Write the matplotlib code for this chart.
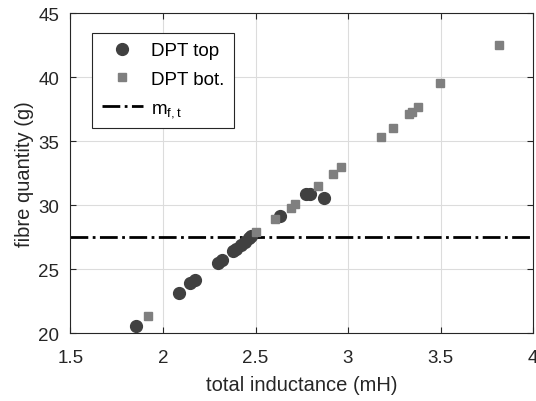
import numpy as np
import matplotlib.pyplot as plt

plt.rcParams['font.family'] = ['Liberation Sans', 'DejaVu Sans']

# DPT top (circles)
top_L = [1.855, 2.087, 2.144, 2.171, 2.297, 2.317, 2.377, 2.397, 2.423, 2.441, 2.464, 2.477,
         2.635, 2.774, 2.796, 2.871]
top_m = [20.6, 23.15, 23.9, 24.2, 25.5, 25.7, 26.4, 26.6, 26.9, 27.1, 27.45, 27.6,
         29.2, 30.9, 30.9, 30.57]

# DPT bot. (squares)
bot_L = [1.918, 2.505, 2.607, 2.692, 2.715, 2.837, 2.918, 2.963, 3.179, 3.242,
         3.329, 3.346, 3.379, 3.499, 3.814]
bot_m = [21.4, 27.9, 28.96, 29.8, 30.13, 31.5, 32.46, 32.98, 35.3, 36.07,
         37.15, 37.25, 37.7, 39.55, 42.5]

m_ft = 27.5

fig = plt.figure(figsize=(5.36, 4.02), dpi=100)
ax = fig.add_axes([0.1315, 0.168, 0.863, 0.797])

ax.plot(top_L, top_m, 'o', color='#404040', markersize=8.5, label='DPT top', zorder=3)
ax.plot(bot_L, bot_m, 's', color='#7f7f7f', markersize=6, label='DPT bot.', zorder=3)
ax.axhline(m_ft, color='black', linestyle='-.', linewidth=2, label='$\\mathregular{m_{f,t}}$', zorder=2)

ax.set_xlim(1.5, 4)
ax.set_ylim(20, 45)
ax.set_xticks([1.5, 2, 2.5, 3, 3.5, 4])
ax.set_xticklabels(['1.5', '2', '2.5', '3', '3.5', '4'])
ax.set_yticks([20, 25, 30, 35, 40, 45])
ax.grid(True, color='#dcdcdc', linewidth=0.8)
ax.set_axisbelow(True)
ax.tick_params(direction='in', labelsize=13.5, colors='#262626', top=True, right=True, length=4)
ax.tick_params(axis='x', pad=11)
ax.tick_params(axis='y', pad=8)
for s in ax.spines.values():
    s.set_color('#262626')
    s.set_linewidth(0.8)

ax.set_xlabel('total inductance (mH)', fontsize=14.5, color='#262626', labelpad=7)
ax.set_ylabel('fibre quantity (g)', fontsize=14.5, color='#262626', labelpad=3)

leg = ax.legend(loc='upper left', bbox_to_anchor=(0.047, 0.938), fontsize=13.5, fancybox=False,
                edgecolor='#262626', framealpha=1, handlelength=2.2, borderpad=0.5,
                labelspacing=0.6, borderaxespad=0, handletextpad=0.45)
leg.get_frame().set_linewidth(0.8)

fig.savefig('out.png', dpi=100)
